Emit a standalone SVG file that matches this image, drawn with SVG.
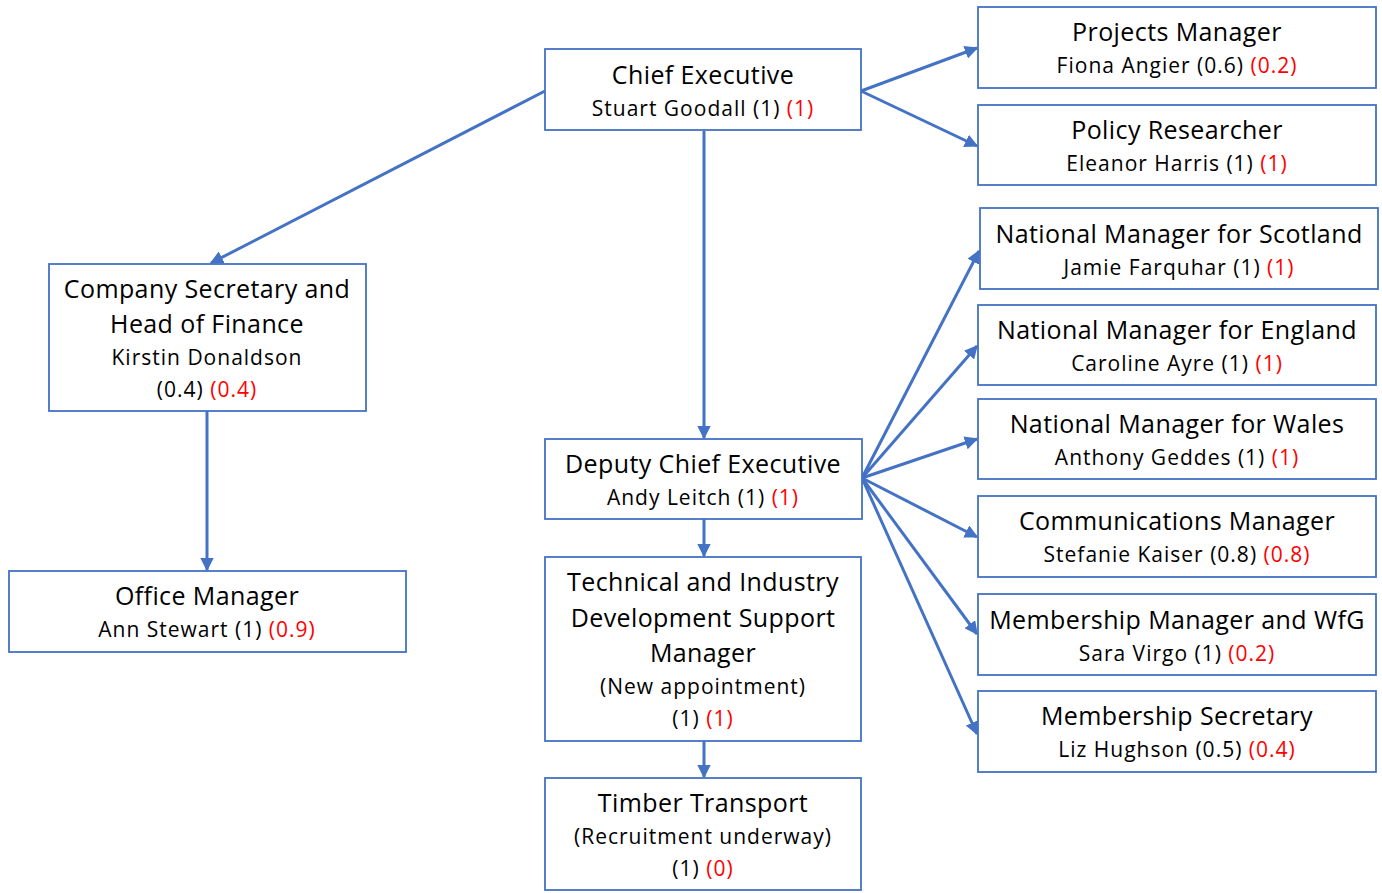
<svg xmlns="http://www.w3.org/2000/svg" width="1382" height="893" viewBox="0 0 1382 893">
  <style>
    .box { fill: #ffffff; stroke: #4472C4; stroke-width: 1.8; }
    .t { font-family: "Open Sans", "Noto Sans", sans-serif; font-size: 25px; letter-spacing: 0.4px; fill: #000; text-anchor: middle; }
    .n { font-family: "Open Sans", "Noto Sans", sans-serif; font-size: 21px; letter-spacing: 1px; fill: #000; text-anchor: middle; }
    .r { fill: #ff0000; }
    .edge { stroke: #4472C4; stroke-width: 3; fill: none; marker-end: url(#arrow); }
  </style>
  <defs>
    <marker id="arrow" viewBox="0 0 10 10" refX="9" refY="5" markerWidth="4.5" markerHeight="4.5" orient="auto" markerUnits="strokeWidth">
      <path d="M0,0 L10,5 L0,10 z" fill="#4472C4"/>
    </marker>
  </defs>
  <rect width="1382" height="893" fill="#ffffff"/>

  <g id="connectors">
    <line class="edge" x1="545" y1="91" x2="211" y2="263"/>
    <line class="edge" x1="704" y1="131" x2="704" y2="438"/>
    <line class="edge" x1="861" y1="91" x2="977" y2="48"/>
    <line class="edge" x1="861" y1="91" x2="977" y2="146"/>
    <line class="edge" x1="207" y1="411" x2="207" y2="570"/>
    <line class="edge" x1="862" y1="478" x2="979" y2="251"/>
    <line class="edge" x1="862" y1="478" x2="977" y2="346"/>
    <line class="edge" x1="862" y1="478" x2="977" y2="439"/>
    <line class="edge" x1="862" y1="478" x2="977" y2="537"/>
    <line class="edge" x1="862" y1="478" x2="977" y2="634"/>
    <line class="edge" x1="862" y1="478" x2="977" y2="734"/>
    <line class="edge" x1="704" y1="519" x2="704" y2="556"/>
    <line class="edge" x1="704" y1="741" x2="704" y2="777"/>
  </g>

  <g id="chief-executive">
    <rect class="box" x="545" y="49" width="316" height="81"/>
    <text class="t" x="703" y="84">Chief Executive</text>
    <text class="n" x="703" y="116">Stuart Goodall (1) <tspan class="r">(1)</tspan></text>
  </g>

  <g id="projects-manager">
    <rect class="box" x="978" y="7" width="398" height="81"/>
    <text class="t" x="1177" y="41">Projects Manager</text>
    <text class="n" x="1177" y="73">Fiona Angier (0.6) <tspan class="r">(0.2)</tspan></text>
  </g>

  <g id="policy-researcher">
    <rect class="box" x="978" y="105" width="398" height="80"/>
    <text class="t" x="1177" y="139">Policy Researcher</text>
    <text class="n" x="1177" y="171">Eleanor Harris (1) <tspan class="r">(1)</tspan></text>
  </g>

  <g id="national-manager-scotland">
    <rect class="box" x="980" y="208" width="398" height="81"/>
    <text class="t" x="1179" y="243">National Manager for Scotland</text>
    <text class="n" x="1179" y="275">Jamie Farquhar (1) <tspan class="r">(1)</tspan></text>
  </g>

  <g id="national-manager-england">
    <rect class="box" x="978" y="305" width="398" height="80"/>
    <text class="t" x="1177" y="339">National Manager for England</text>
    <text class="n" x="1177" y="371">Caroline Ayre (1) <tspan class="r">(1)</tspan></text>
  </g>

  <g id="national-manager-wales">
    <rect class="box" x="978" y="399" width="398" height="80"/>
    <text class="t" x="1177" y="433">National Manager for Wales</text>
    <text class="n" x="1177" y="465">Anthony Geddes (1) <tspan class="r">(1)</tspan></text>
  </g>

  <g id="communications-manager">
    <rect class="box" x="978" y="496" width="398" height="81"/>
    <text class="t" x="1177" y="530">Communications Manager</text>
    <text class="n" x="1177" y="562">Stefanie Kaiser (0.8) <tspan class="r">(0.8)</tspan></text>
  </g>

  <g id="membership-manager">
    <rect class="box" x="978" y="594" width="398" height="81"/>
    <text class="t" x="1177" y="629">Membership Manager and WfG</text>
    <text class="n" x="1177" y="661">Sara Virgo (1) <tspan class="r">(0.2)</tspan></text>
  </g>

  <g id="membership-secretary">
    <rect class="box" x="978" y="691" width="398" height="81"/>
    <text class="t" x="1177" y="725">Membership Secretary</text>
    <text class="n" x="1177" y="757">Liz Hughson (0.5) <tspan class="r">(0.4)</tspan></text>
  </g>

  <g id="company-secretary">
    <rect class="box" x="49" y="264" width="317" height="147"/>
    <text class="t" x="207" y="298">Company Secretary and</text>
    <text class="t" x="207" y="333">Head of Finance</text>
    <text class="n" x="207" y="365">Kirstin Donaldson</text>
    <text class="n" x="207" y="397">(0.4) <tspan class="r">(0.4)</tspan></text>
  </g>

  <g id="office-manager">
    <rect class="box" x="9" y="571" width="397" height="81"/>
    <text class="t" x="207" y="605">Office Manager</text>
    <text class="n" x="207" y="637">Ann Stewart (1) <tspan class="r">(0.9)</tspan></text>
  </g>

  <g id="deputy-chief-executive">
    <rect class="box" x="545" y="439" width="317" height="80"/>
    <text class="t" x="703" y="473">Deputy Chief Executive</text>
    <text class="n" x="703" y="505">Andy Leitch (1) <tspan class="r">(1)</tspan></text>
  </g>

  <g id="technical-manager">
    <rect class="box" x="545" y="557" width="316" height="184"/>
    <text class="t" x="703" y="591">Technical and Industry</text>
    <text class="t" x="703" y="627">Development Support</text>
    <text class="t" x="703" y="662">Manager</text>
    <text class="n" x="703" y="694">(New appointment)</text>
    <text class="n" x="703" y="726">(1) <tspan class="r">(1)</tspan></text>
  </g>

  <g id="timber-transport">
    <rect class="box" x="545" y="778" width="316" height="112"/>
    <text class="t" x="703" y="812">Timber Transport</text>
    <text class="n" x="703" y="844">(Recruitment underway)</text>
    <text class="n" x="703" y="876">(1) <tspan class="r">(0)</tspan></text>
  </g>
</svg>
